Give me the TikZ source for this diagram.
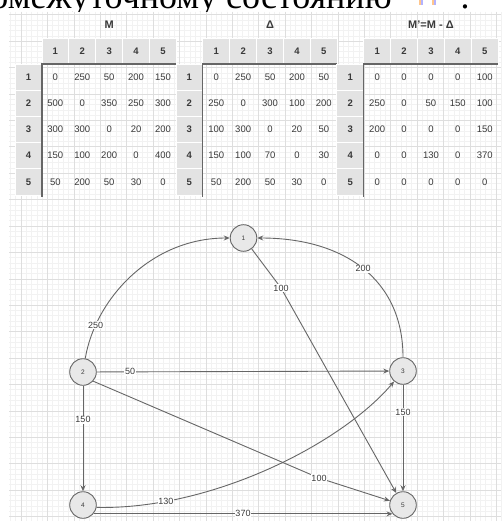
\documentclass[tikz,border=0pt]{standalone}
\usepackage{fontspec}
\setmainfont{Liberation Sans}
\newfontfamily\serifru{Liberation Serif}
\usetikzlibrary{arrows.meta}
\definecolor{gminorc}{HTML}{F2F2F2}
\definecolor{gmajorc}{HTML}{DEDEDE}
\definecolor{hdrgray}{HTML}{E3E3E3}
\definecolor{txtc}{HTML}{3A3A3A}
\definecolor{linec}{HTML}{666666}
\definecolor{nodefill}{HTML}{E8E8E8}
\newcommand\mytable[4]{% x0, title, rows list, line colour
  \pgfmathsetmacro\tx{#1}
  \foreach \c in {1,...,5}{
    \fill[hdrgray, draw=white, line width=0.8pt] ({\tx+\c*26.9},38) rectangle ({\tx+(\c+1)*26.9},64);
    \node[cellh] at ({\tx+(\c+0.5)*26.9},51) {\c};
  }
  \foreach \r in {1,...,5}{
    \fill[hdrgray, draw=white, line width=0.8pt] ({\tx},{64+(\r-1)*26.2}) rectangle ({\tx+26.9},{64+\r*26.2});
    \node[cellh] at ({\tx+13.45},{64+(\r-0.5)*26.2}) {\r};
  }
  \node[ttl] at ({\tx+3.5*26.9},25) {#2};
  \foreach \row [count=\r] in {#3}{
    \foreach \v [count=\c] in \row {
      \node[cellv] at ({\tx+(\c+0.5)*26.9},{64+(\r-0.5)*26.2}) {\v};
    }
  }
  \draw[#4, line width=1.3pt] ({\tx+26.9},197) -- ({\tx+26.9},64) -- ({\tx+6*26.9},64);
}
\begin{document}
\begin{tikzpicture}[x=1pt,y=-1pt,
  gminor/.style={draw=gminorc, line width=0.6pt},
  gmajor/.style={draw=gmajorc, line width=0.6pt},
  cellh/.style={font=\bfseries\fontsize{9.5}{10}\selectfont, text=txtc, inner sep=0pt},
  cellv/.style={font=\fontsize{9.5}{10}\selectfont, text=txtc, inner sep=0pt},
  ttl/.style={font=\bfseries\fontsize{11}{11}\selectfont, text=txtc, inner sep=0pt},
  gnode/.style={circle, draw=linec, fill=nodefill, minimum size=26.6pt, inner sep=0pt, line width=0.9pt, font=\fontsize{6.5}{7}\selectfont, text=txtc},
  edge/.style={draw=linec, line width=0.9pt, -{Stealth[length=6pt,width=5pt]}},
  elab/.style={fill=white, inner sep=0.8pt, font=\fontsize{9}{9}\selectfont, text=txtc}
]
\useasboundingbox (0,0) rectangle (501,521);
\fill[white] (0,0) rectangle (501,521);
% grid
\foreach \k in {1,...,94}{\draw[gminor] ({5.16+5.28*\k},12) -- ({5.16+5.28*\k},521);}
\foreach \k in {2,...,97}{\draw[gminor] (9,{4.24+5.28*\k}) -- (501,{4.24+5.28*\k});}
\foreach \k in {0,...,18}{\draw[gmajor] ({5.16+5.28*(3+5*\k)},12) -- ({5.16+5.28*(3+5*\k)},521);}
\foreach \k in {0,...,19}{\draw[gmajor] (9,{4.24+5.28*(2+5*\k)}) -- (501,{4.24+5.28*(2+5*\k)});}
% cropped heading
\begin{scope}
\clip (0,0) rectangle (501,12);
\node[anchor=base west, inner sep=0pt, font=\serifru\fontsize{36}{36}\selectfont] (head) at (-47,9) {промежуточному состоянию};
\node[anchor=base west, inner sep=0pt, font=\serifru\fontsize{36}{36}\selectfont] (colon) at (460,9) {:};
\fill[orange!45] (419,0) rectangle (421,5);
\fill[blue!30] (421,0) rectangle (423,5);
\fill[orange!45] (432,0) rectangle (434,5);
\fill[blue!30] (434,0) rectangle (436,5);
\end{scope}
% tables
\mytable{15}{M}{{0,250,50,200,150},{500,0,350,250,300},{300,300,0,20,200},{150,100,200,0,400},{50,200,50,30,0}}{linec}
\mytable{175.9}{Δ}{{0,250,50,200,50},{250,0,300,100,200},{100,300,0,20,50},{150,100,70,0,30},{50,200,50,30,0}}{linec}
\mytable{336.8}{M'=M - Δ}{{0,0,0,0,100},{250,0,50,150,100},{200,0,0,0,150},{0,0,130,0,370},{0,0,0,0,0}}{linec}
% graph
\node[gnode] (n1) at (243.5,238) {1};
\node[gnode] (n2) at (83,372) {2};
\node[gnode] (n3) at (403,371) {3};
\node[gnode] (n4) at (83,505) {4};
\node[gnode] (n5) at (403,505) {5};
\coordinate (w15) at (281,288);
\coordinate (w25) at (319,478);
\draw[edge] (n2) .. controls (95,300) and (150,238) .. node[elab,pos=0.19]{250} (n1);
\draw[edge] (n3) .. controls (403,280) and (345,238) .. node[elab,pos=0.5]{200} (n1);
\draw[edge] (n1) -- (w15) -- (n5);
\node[elab] at (w15) {100};
\draw[edge] (n2) -- node[elab,pos=0.114]{50} (n3);
\draw[edge] (n2.-42) -- (w25) -- (n5);
\node[elab] at (w25) {100};
\draw[edge] (n4.-10) .. controls (210,510) and (340,445) .. node[elab,pos=0.2]{130} (n3);
\draw[edge] (n4.-40) -- node[elab,pos=0.5]{370} (n5.-140);
\draw[edge] (n3) -- node[elab,pos=0.26]{150} (n5);
\draw[edge] (n2) -- node[elab,pos=0.32]{150} (n4);
\end{tikzpicture}
\end{document}
